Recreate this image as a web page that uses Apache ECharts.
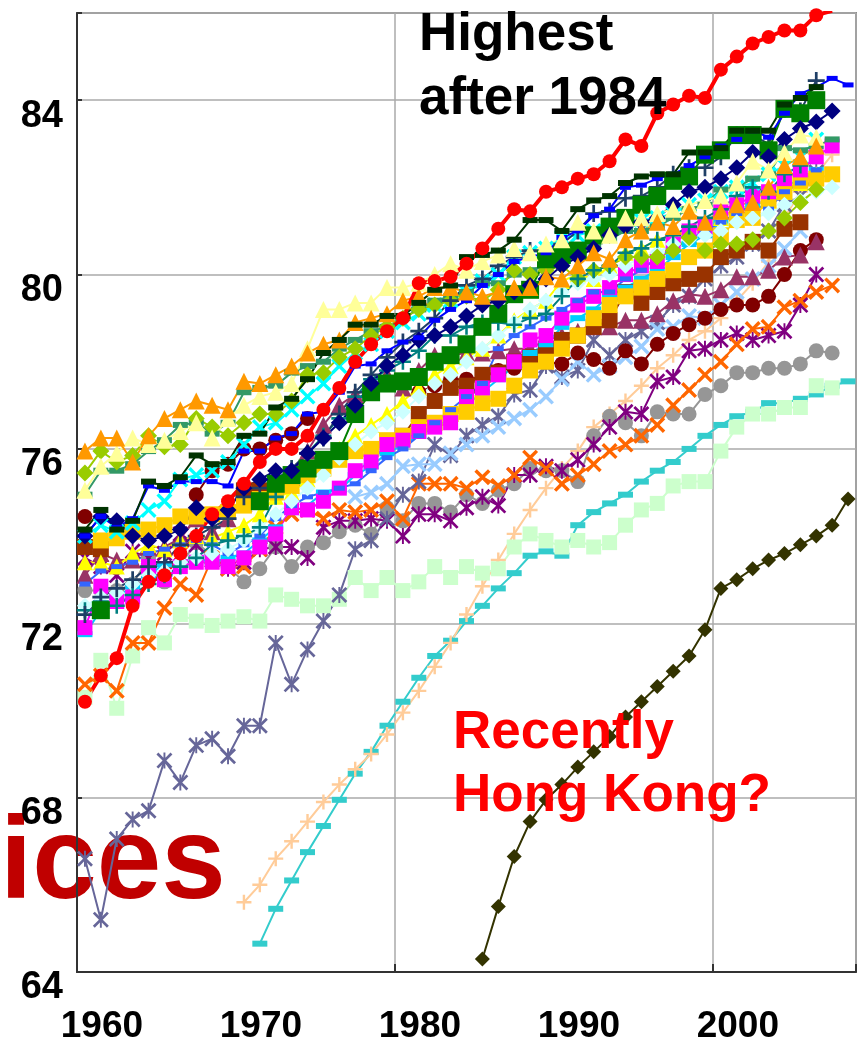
<!DOCTYPE html>
<html>
<head>
<meta charset="utf-8">
<script src="https://cdn.jsdelivr.net/npm/echarts@6/dist/echarts.min.js"></script>
<style>
  html, body { margin: 0; padding: 0; background: #fff; }
  #chart-container { width: 860px; height: 1045px; }
</style>
</head>
<body>
<div id="chart-container"></div>
<script>
// years on the category axis
var years = [1960,1961,1962,1963,1964,1965,1966,1967,1968,1969,
             1970,1971,1972,1973,1974,1975,1976,1977,1978,1979,
             1980,1981,1982,1983,1984,1985,1986,1987,1988,1989,
             1990,1991,1992,1993,1994,1995,1996,1997,1998,1999,
             2000,2001,2002,2003,2004,2005,2006,2007,2008];
var yTicks = [64, 68, 72, 76, 80, 84];

// one array per country line, 1960..2008, null = no data
var red = [70.2,70.8,71.2,72.4,72.95,73.1,73.6,74.0,74.5,74.8,
  75.2,75.7,76.0,76.0,76.3,76.9,77.4,78.0,78.4,78.7,
  79.0,79.8,79.85,79.95,80.25,80.6,81.05,81.5,81.45,81.9,
  82.0,82.2,82.3,82.6,83.1,82.95,83.7,83.9,84.1,84.05,
  84.7,85.0,85.3,85.45,85.6,85.6,85.95,86.05,null];
var dkGreen = [74.15,74.6,74.15,74.35,75.25,75.15,75.35,75.85,75.65,75.7,
  76.3,76.35,76.95,77.15,77.6,78.2,78.5,78.85,78.85,79.05,
  79.05,79.35,79.65,79.75,80.4,80.45,80.55,80.8,81.25,81.25,
  81.0,81.5,81.7,81.8,82.1,82.25,82.3,82.3,82.8,82.8,
  82.9,83.3,83.3,83.3,83.9,84.05,84.3,null,null];
var orangeTri = [75.95,76.25,76.25,75.7,76.3,76.7,76.9,77.1,77.0,76.9,
  77.55,77.5,77.7,77.9,78.2,78.4,78.5,78.9,79.0,79.1,
  79.4,79.5,79.7,79.7,79.6,79.5,79.6,79.7,79.7,79.95,
  79.9,80.2,80.5,80.35,80.8,81.0,81.2,81.1,81.45,81.2,
  81.45,81.6,81.65,82.0,82.5,82.7,82.95,null,null];
var paleTri = [75.05,75.6,75.9,76.25,76.1,76.2,76.4,76.6,76.25,76.7,
  77.0,77.2,77.3,77.5,78.3,79.2,79.2,79.35,79.35,79.7,
  79.7,79.8,80.0,80.25,80.1,80.3,80.45,80.6,80.5,80.7,
  80.8,81.2,81.0,80.9,81.3,81.3,81.4,81.5,81.6,81.7,
  81.8,82.1,82.6,82.4,82.8,83.2,83.15,null,null];
var blueDash = [74.0,74.45,74.2,74.4,75.15,75.05,75.25,75.25,75.25,75.15,
  75.95,75.95,76.25,76.35,76.8,76.85,77.3,77.9,77.95,78.25,
  78.45,78.55,78.95,79.2,79.4,79.75,80.0,80.3,80.4,80.5,
  80.85,81.0,81.35,81.5,82.0,82.05,82.2,82.3,82.5,82.7,
  82.95,83.1,83.3,83.15,83.7,84.15,84.3,84.5,84.35];
var navyDia = [74.0,74.45,74.35,74.0,73.9,74.0,74.15,74.65,74.4,74.6,
  75.1,75.3,75.5,75.5,75.9,76.25,76.6,77.0,77.5,77.9,
  78.15,78.5,78.6,78.8,79.05,79.3,79.4,79.6,79.75,79.9,
  80.2,80.4,80.6,80.9,81.1,81.2,81.3,81.6,81.9,82.0,
  82.2,82.45,82.8,82.7,83.1,83.35,83.5,83.75,null];
var greenSq = [null,72.3,null,null,null,null,null,null,null,null,
  null,74.8,75.2,75.4,75.55,75.75,75.95,76.8,77.3,77.5,
  77.55,77.65,78.0,78.15,78.4,78.8,79.1,79.55,79.65,80.35,
  80.45,80.55,80.9,81.1,81.3,81.6,81.8,82.15,82.25,82.75,
  82.85,83.2,83.2,82.85,83.8,83.7,84.0,null,null];
var slatePlus = [72.2,72.6,72.8,73.0,73.3,73.4,73.8,74.0,74.2,74.4,
  74.9,75.1,75.3,75.55,75.9,76.25,76.8,77.3,77.7,78.1,
  78.45,78.7,79.0,79.4,79.75,79.9,80.2,80.4,80.55,80.5,
  80.7,81.0,81.4,81.45,81.75,81.8,82.0,82.3,82.45,82.45,
  82.7,83.2,83.2,83.0,83.8,83.75,84.45,null,null];
var tealPlus = [72.3,72.5,72.4,72.65,72.9,73.1,73.3,73.5,73.8,73.9,
  74.0,74.2,74.9,75.5,75.9,76.3,76.7,77.2,77.6,77.8,
  78.0,78.25,78.6,78.6,78.8,78.9,78.9,78.85,79.0,79.1,
  79.5,79.9,80.1,80.2,80.5,80.6,80.8,80.9,81.1,81.3,
  81.5,81.8,82.0,81.9,82.3,82.5,null,null,null];
var limeDia = [75.45,75.95,75.7,75.85,76.3,76.05,76.1,76.7,76.5,76.3,
  76.6,76.8,76.8,77.1,77.7,77.75,78.1,78.3,78.6,78.8,
  79.0,79.2,79.3,79.4,79.5,79.4,79.65,80.1,80.0,80.1,
  80.2,79.9,80.1,80.2,80.4,80.4,80.4,80.55,80.85,80.55,
  80.7,80.7,80.8,81.0,81.3,81.65,81.95,null,null];
var seaDash = [74.95,75.5,75.5,75.65,75.95,76.2,76.55,76.6,76.35,76.6,
  77.3,77.4,77.45,77.75,77.9,78.0,78.3,78.5,78.7,78.8,
  79.0,79.2,79.4,79.5,79.6,79.8,79.8,80.0,80.1,80.2,
  80.3,80.6,80.7,80.8,81.0,81.0,81.1,81.3,81.5,81.6,
  81.95,82.0,82.2,82.3,82.9,82.85,82.95,83.1,null];
var cyanX = [74.0,74.25,74.1,74.3,74.6,74.8,75.3,75.4,75.5,75.7,
  76.1,76.5,76.6,76.9,77.2,77.5,77.9,78.2,78.4,78.7,
  78.9,79.1,79.3,79.4,79.6,79.85,80.0,80.4,80.5,80.6,
  80.85,80.9,81.0,81.1,81.2,81.25,81.3,81.4,81.6,81.7,
  81.9,82.0,82.1,82.3,82.5,82.7,83.1,null,null];
var iceDia = [72.4,72.6,72.7,72.9,73.1,73.2,73.4,73.5,73.6,73.7,
  73.9,74.2,74.5,74.8,75.1,75.4,75.8,76.1,76.4,76.6,
  76.85,77.2,77.5,77.7,78.0,78.3,78.6,78.9,79.2,79.4,
  79.6,79.8,79.9,80.0,80.2,80.4,80.5,80.7,80.8,80.9,
  81.0,81.2,81.3,81.4,81.6,81.7,81.9,82.0,null];
var magentaSq = [71.9,72.85,72.5,72.6,73.3,73.0,73.3,73.4,73.4,73.3,
  73.5,73.75,74.05,74.65,74.6,74.8,75.1,75.5,75.7,76.1,
  76.2,76.4,76.5,76.6,77.2,77.4,77.7,78.0,78.5,78.6,
  79.0,79.3,79.5,79.7,80.0,80.2,80.3,80.7,81.0,81.1,
  81.5,81.6,81.8,81.9,82.2,82.4,82.7,82.95,null];
var goldSq = [null,73.9,73.95,74.1,74.15,74.25,74.45,74.45,74.5,74.55,
  74.7,74.85,75.0,75.15,75.4,75.55,75.75,75.95,76.0,76.2,
  76.3,76.5,76.6,76.8,76.85,77.05,77.15,77.45,77.8,78.0,
  78.3,78.6,79.0,79.3,79.5,79.7,79.9,80.1,80.4,80.55,
  80.9,81.25,81.3,81.7,81.9,82.15,82.2,82.3,null];
var yellowTri = [73.4,73.4,73.3,73.6,73.8,73.7,73.9,74.0,73.95,74.1,
  74.25,74.5,74.9,75.0,75.3,75.6,76.0,76.3,76.55,76.8,
  77.1,77.4,77.7,77.9,78.1,78.3,78.6,78.95,79.2,79.4,
  79.85,80.0,79.9,80.2,80.5,80.6,80.8,80.9,81.0,81.15,
  81.3,81.5,81.6,81.7,81.9,82.1,82.3,null,null];
var skyDash = [71.75,72.3,72.6,72.85,73.1,73.35,73.4,73.5,73.4,73.5,
  73.6,73.9,74.2,74.55,74.7,75.0,75.05,75.4,75.6,75.9,
  76.1,76.3,76.5,76.7,77.0,77.3,77.6,77.9,78.2,78.4,
  78.8,79.0,79.2,79.5,79.7,79.9,80.1,80.4,80.7,80.9,
  81.2,81.4,81.6,81.7,82.0,82.2,82.4,null,null];
var brownSq = [73.75,73.7,null,null,null,null,null,null,null,null,
  75.05,75.05,null,null,null,null,null,null,null,null,
  76.3,76.8,77.1,77.4,77.45,77.7,77.75,78.0,78.1,78.3,
  78.5,78.6,78.8,78.95,79.6,79.35,79.6,79.8,79.9,80.0,
  80.4,80.55,80.75,80.55,81.05,81.2,null,null,null];
var plumTri = [73.1,73.6,73.45,73.45,73.75,73.75,73.95,74.4,74.1,74.4,
  74.75,75.05,75.15,75.35,75.95,76.55,77.0,77.25,77.4,77.7,
  77.4,77.8,78.15,78.15,78.2,78.2,78.25,78.3,78.3,78.5,
  78.6,78.7,78.8,78.8,78.95,78.95,79.1,79.4,79.55,79.5,
  79.65,79.95,79.95,80.1,80.4,80.45,80.75,null,null];
var maroonDot = [74.45,null,null,null,null,null,null,74.95,75.5,75.65,
  76.0,76.0,76.2,76.35,76.7,null,null,null,null,null,
  null,77.3,77.45,77.6,77.6,77.65,77.8,77.85,77.9,78.0,
  77.95,78.2,78.05,77.85,78.25,77.95,78.4,78.65,78.85,79.0,
  79.2,79.3,79.3,79.5,80.0,80.55,80.8,null,null];
var paleBlueX = [null,null,null,null,null,null,null,null,null,null,
  null,null,null,null,null,null,null,74.9,75.0,75.2,
  75.6,75.65,75.65,75.9,76.1,76.3,76.5,76.7,76.9,77.2,
  77.6,78.0,77.7,77.9,78.1,78.35,78.75,78.8,79.05,79.0,
  79.3,79.6,79.9,80.2,80.6,81.0,null,null,null];
var slateStar = [66.6,65.2,67.05,67.5,67.7,68.85,68.35,69.2,69.35,68.95,
  69.65,69.65,71.55,70.6,71.4,72.05,72.65,73.7,73.9,74.4,
  74.95,75.25,76.1,75.85,76.3,76.55,76.75,77.25,77.35,77.9,
  77.65,77.8,78.5,78.15,78.5,78.7,78.9,79.3,79.5,79.9,
  80.2,80.4,80.7,81.0,81.6,81.8,82.35,null,null];
var orangeX = [70.6,70.8,70.45,71.55,71.55,72.35,72.9,72.65,73.5,73.25,
  73.3,73.7,74.2,74.5,74.6,74.4,74.6,74.55,74.6,74.8,
  74.4,75.2,75.2,75.2,75.1,75.35,75.15,75.4,75.8,75.55,
  75.2,75.4,75.65,75.95,76.1,76.3,76.55,77.0,77.35,77.7,
  78.0,78.4,78.75,78.8,79.25,79.4,79.6,79.75,null];
var purpleStar = [73.5,73.3,73.1,73.65,73.5,73.6,74.05,73.8,73.45,73.25,
  73.4,73.7,73.75,73.75,73.5,74.2,74.35,74.35,74.4,74.35,
  74.0,74.5,74.5,74.35,74.65,74.9,74.7,75.4,75.4,75.6,
  75.5,75.75,76.1,76.5,76.85,76.8,77.55,77.65,78.25,78.3,
  78.5,78.65,78.5,78.6,78.7,79.3,80.0,null,null];
var grayDot = [72.75,72.75,72.75,72.9,73.5,72.95,73.35,73.85,73.55,73.3,
  72.95,73.25,73.75,73.3,73.75,73.85,74.1,74.25,74.05,74.65,
  74.35,74.75,74.75,74.55,74.95,74.75,75.05,75.2,75.55,75.5,
  75.5,75.25,76.3,76.75,76.6,76.3,76.85,76.8,76.8,77.25,
  77.45,77.75,77.75,77.85,77.85,77.95,78.25,78.2,null];
var mintSq = [70.3,71.15,70.05,71.25,71.9,71.55,72.2,72.05,71.95,72.05,
  72.15,72.05,72.65,72.55,72.4,72.4,72.55,73.05,72.75,73.05,
  72.75,72.95,73.3,73.05,73.3,73.15,73.25,73.75,74.05,73.9,
  73.75,73.9,73.75,73.85,74.25,74.6,74.75,75.15,75.25,75.25,
  75.95,76.5,76.8,76.8,76.95,76.95,77.45,77.4,null];
var peachPlus = [null,null,null,null,null,null,null,null,null,null,
  65.6,66.0,66.6,67.0,67.45,67.9,68.3,68.65,69.0,69.45,
  69.95,70.45,71.0,71.55,72.2,72.85,73.45,74.05,74.6,75.1,
  75.55,75.95,76.5,76.8,77.1,77.45,77.85,78.15,78.5,78.7,
  79.0,79.4,79.8,80.3,81.3,81.9,82.3,82.75,null];
var turqDash = [null,null,null,null,null,null,null,null,null,null,
  null,64.65,65.45,66.1,66.75,67.35,67.95,68.55,69.05,69.65,
  70.2,70.75,71.25,71.6,72.05,72.4,72.8,73.15,73.55,73.65,
  73.55,74.25,74.55,74.75,74.95,75.25,75.5,75.7,76.0,76.3,
  76.55,76.75,76.85,77.05,77.05,77.15,77.25,77.45,77.55];
var hongKong = [null,null,null,null,null,null,null,null,null,null,
  null,null,null,null,null,null,null,null,null,null,
  null,null,null,null,null,64.3,65.5,66.65,67.45,67.95,
  68.3,68.7,69.05,69.4,69.85,70.2,70.55,70.9,71.25,71.85,
  72.8,73.0,73.25,73.45,73.6,73.8,74.0,74.25,74.85];
var royalDash = [72.9,73.2,73.3,73.4,73.6,73.7,73.8,73.9,73.8,73.6,
  73.8,74.0,74.4,74.7,74.9,75.0,75.1,75.2,75.5,75.8,
  76.0,76.3,76.6,76.9,77.2,77.5,78.3,78.6,78.8,79.0,
  79.2,79.4,79.6,79.6,79.9,80.1,80.4,80.6,80.8,81.0,
  81.2,81.4,81.6,81.5,81.9,82.1,82.4,null,null];

var X_MARK = 'path://M0,1.5L1.5,0L5,3.5L8.5,0L10,1.5L6.5,5L10,8.5L8.5,10L5,6.5L1.5,10L0,8.5L3.5,5Z';
var PLUS_MARK = 'path://M4.2,0H5.8V4.2H10V5.8H5.8V10H4.2V5.8H0V4.2H4.2Z';
var STAR_MARK = 'path://M0,1.2L1.2,0L5,3.8L8.8,0L10,1.2L6.2,5L10,8.8L8.8,10L5,6.2L1.2,10L0,8.8L3.8,5Z M4.4,0H5.6V10H4.4Z';
var DASH = [15, 6];

// drawing order: first is at the bottom, Japan on top
var lines = [
  ['hk', hongKong, '#333300', 'diamond', 15, 2],
  ['turq', turqDash, '#33CCCC', 'rect', DASH, 2],
  ['peach', peachPlus, '#FFCC99', PLUS_MARK, 15, 2],
  ['mint', mintSq, '#CCFFCC', 'rect', 15, 2],
  ['gray', grayDot, '#969696', 'circle', 15, 2],
  ['purple', purpleStar, '#800080', STAR_MARK, 16, 2],
  ['orangeX', orangeX, '#FF6600', X_MARK, 16, 2],
  ['slate', slateStar, '#666699', STAR_MARK, 16, 2],
  ['paleBlue', paleBlueX, '#99CCFF', X_MARK, 16, 2],
  ['maroon', maroonDot, '#800000', 'circle', 15, 2],
  ['plum', plumTri, '#993366', 'triangle', 17, 2],
  ['brown', brownSq, '#993300', 'rect', 16, 2],
  ['sky', skyDash, '#00CCFF', 'rect', DASH, 2],
  ['yellow', yellowTri, '#FFFF00', 'triangle', 16, 2],
  ['gold', goldSq, '#FFCC00', 'rect', 16, 2],
  ['magenta', magentaSq, '#FF00FF', 'rect', 15, 2],
  ['royal', royalDash, '#3366FF', 'rect', [11, 5], 2],
  ['ice', iceDia, '#CCFFFF', 'diamond', 16, 2],
  ['cyan', cyanX, '#00FFFF', X_MARK, 16, 2],
  ['sea', seaDash, '#339966', 'rect', DASH, 2],
  ['lime', limeDia, '#99CC00', 'diamond', 17, 2],
  ['teal', tealPlus, '#008080', PLUS_MARK, 16, 2],
  ['slatePlus', slatePlus, '#1F3F66', PLUS_MARK, 17, 2],
  ['green', greenSq, '#008000', 'rect', 18, 2],
  ['navy', navyDia, '#000080', 'diamond', 17, 2],
  ['blue', blueDash, '#0000FF', 'rect', [11, 5], 2],
  ['pale', paleTri, '#FFFF99', 'triangle', 17, 2],
  ['orange', orangeTri, '#FF9900', 'triangle', 17, 2],
  ['dkgreen', dkGreen, '#003300', 'rect', DASH, 2],
  ['japan', red, '#FF0000', 'circle', 14, 4]
];

var series = lines.map(function (l) {
  return {
    name: l[0],
    type: 'line',
    data: l[1],
    symbol: l[3],
    symbolSize: l[4],
    showAllSymbol: true,
    connectNulls: false,
    lineStyle: { color: l[2], width: l[5] },
    itemStyle: { color: l[2] },
    emphasis: { disabled: true }
  };
});

var myChart = echarts.init(document.getElementById('chart-container'));
var option = {
  animation: false,
  backgroundColor: '#ffffff',
  grid: { left: 77, right: 4, top: 13, bottom: 72, show: true, borderColor: '#8a8a8a', borderWidth: 2 },
  xAxis: {
    type: 'category',
    data: years,
    boundaryGap: true,
    axisLine: { lineStyle: { color: '#333', width: 2 } },
    axisTick: { show: true, inside: true, length: 8, lineStyle: { color: '#333', width: 2 },
      interval: function (i) { return i % 20 === 0; } },
    splitLine: { show: true, lineStyle: { color: '#aaaaaa', width: 1.5 },
      interval: function (i) { return i % 20 === 0; } },
    axisLabel: {
      interval: function (i) { return i % 10 === 0; },
      color: '#000', fontWeight: 'bold', fontSize: 37, fontFamily: 'Liberation Sans',
      margin: 36, verticalAlign: 'top', lineHeight: 37, padding: [0, 0, 0, 34]
    }
  },
  yAxis: {
    type: 'value',
    min: 64, max: 86, interval: 4,
    axisLine: { show: true, lineStyle: { color: '#333', width: 2 } },
    axisTick: { show: true, inside: true, length: 5, lineStyle: { color: '#333', width: 2 } },
    splitLine: { show: true, lineStyle: { color: '#aaaaaa', width: 1.5 } },
    axisLabel: {
      formatter: function (v) { return yTicks.indexOf(v) >= 0 ? String(v) : ''; },
      color: '#000', fontWeight: 'bold', fontSize: 38, fontFamily: 'Liberation Sans',
      margin: 14, verticalAlign: 'top', lineHeight: 32
    }
  },
  graphic: [
    { type: 'text', z: 0, style: { text: 'ices', x: 0, y: 866, fill: '#C00000',
        font: 'bold 116px "Liberation Sans"', textVerticalAlign: 'middle' } },
    { type: 'text', z: 100, style: { text: 'Highest\nafter 1984', x: 419, y: 3, fill: '#000',
        font: 'bold 53px "Liberation Sans"', lineHeight: 64, textVerticalAlign: 'top' } },
    { type: 'text', z: 100, style: { text: 'Recently\nHong Kong?', x: 453, y: 702, fill: '#FF0000',
        font: 'bold 53px "Liberation Sans"', lineHeight: 63, textVerticalAlign: 'top' } }
  ],
  series: series
};
myChart.setOption(option);
</script>
</body>
</html>
